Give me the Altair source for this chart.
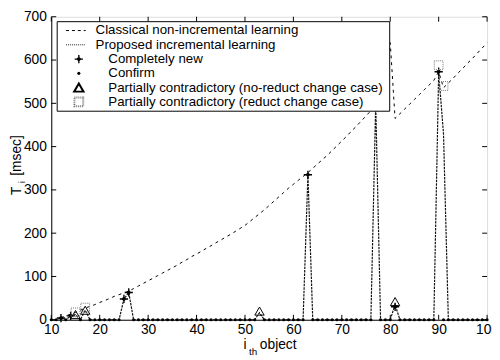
import altair as alt
import pandas as pd

# ---------------- data ----------------
obj_x = list(range(10, 101))
incremental_t = [
    0, 0, 4, 0, 9, 12, 0, 22, 0, 0,          # 10-19
    0, 0, 0, 0, 0, 48, 63, 0, 0, 0,          # 20-29
    0, 0, 0, 0, 0, 0, 0, 0, 0, 0,            # 30-39
    0, 0, 0, 0, 0, 0, 0, 0, 0, 0,            # 40-49
    0, 0, 0, 16, 0, 0, 0, 0, 0, 0,           # 50-59
    0, 0, 0, 335, 0, 0, 0, 0, 0, 0,          # 60-69
    0, 0, 0, 0, 0, 0, 0, 500, 0, 0,          # 70-79
    0, 35, 0, 0, 0, 0, 0, 0, 0, 0,           # 80-89
    570, 430, 0, 0, 0, 0, 0, 0, 0, 0,        # 90-99
    0,                                       # 100
]

classical_x = list(range(12, 101))
classical_t = [
    5, 9, 13, 17, 22, 27, 31, 35,                       # 12-19
    40, 44, 49, 54, 58, 62, 66, 72, 78, 84,             # 20-29
    90, 96, 102, 108, 114, 120, 126, 133, 139, 146,     # 30-39
    152, 158, 165, 171, 178, 184, 191, 197, 204, 211,   # 40-49
    218, 227, 236, 245, 254, 264, 274, 284, 294, 304,   # 50-59
    313, 322, 331, 340, 350, 360, 370, 380, 391, 402,   # 60-69
    413, 424, 436, 447, 459, 471, 483, 496, 520, 570,   # 70-79
    640, 465, 476, 487, 498, 509, 520, 531, 542, 553,   # 80-89
    573, 536, 547, 558, 570, 581, 593, 604, 616, 628,   # 90-99
    640,                                                # 100
]

new_x = [12, 14, 25, 26, 63, 77, 81, 90]
new_t = [4, 9, 48, 63, 335, 500, 30, 573]

tri_x = [15, 17, 53, 81]
tri_t = [12, 22, 20, 42]

sq_x = [15, 17, 90, 91]
sq_t = [17, 28, 588, 540]

special = set(new_x) | set(tri_x)
confirm_x = [x for x in obj_x if x not in special]
confirm_t = [0 for _ in confirm_x]

y_ticks = [0, 100, 200, 300, 400, 500, 600, 700]
x_ticks = [10, 20, 30, 40, 50, 60, 70, 80, 90, 100]

legend_labels = [
    "Classical non-incremental learning",
    "Proposed incremental learning",
    "Completely new",
    "Confirm",
    "Partially contradictory (no-reduct change case)",
    "Partially contradictory (reduct change case)",
]

# ---------------- styling / layout ----------------
FONT = "Liberation Sans"
W, H = 443, 308

xscale = alt.Scale(domain=[10, 100], nice=False, zero=False)
yscale = alt.Scale(domain=[0, 700], nice=False, zero=True)
xaxis = alt.Axis(values=x_ticks, title=None, ticks=False, labelPadding=3,
                 grid=False, labelFontSize=14, labelFont=FONT, labelColor="black",
                 domainColor="black", labelFlush=False, labelOverlap=False)
yaxis = alt.Axis(values=y_ticks, title=None, ticks=False, labelPadding=5,
                 grid=False, labelFontSize=14, labelFont=FONT, labelColor="black",
                 domainColor="black")


def X(field):
    return alt.X(f"{field}:Q", scale=xscale, axis=xaxis)


def Y(field):
    return alt.Y(f"{field}:Q", scale=yscale, axis=yaxis)


df_incr = pd.DataFrame({"x": obj_x, "t": incremental_t})
df_class = pd.DataFrame({"x": classical_x, "t": classical_t})
df_new = pd.DataFrame({"x": new_x, "t": new_t})
df_tri = pd.DataFrame({"x": tri_x, "t": tri_t})
df_sq = pd.DataFrame({"x": sq_x, "t": sq_t})
df_conf = pd.DataFrame({"x": confirm_x, "t": confirm_t})
df_yt = pd.DataFrame({"v": y_ticks})
df_xt = pd.DataFrame({"v": x_ticks})
one = pd.DataFrame({"a": [0]})

STAR = "M-1,0L1,0M0,-1L0,1M-0.4,0L0,-0.4L0.4,0L0,0.4Z"

classical = alt.Chart(df_class).mark_line(
    color="black", strokeDash=[3, 4], strokeWidth=1).encode(x=X("x"), y=Y("t"))
incremental = alt.Chart(df_incr).mark_line(
    color="#111111", strokeDash=[2.5, 1], strokeWidth=1.2).encode(x=X("x"), y=Y("t"))
confirm = alt.Chart(df_conf).mark_point(
    shape="circle", filled=True, size=10, color="black", opacity=1).encode(x=X("x"), y=Y("t"))
newp = alt.Chart(df_new).mark_point(
    shape=STAR, filled=True, size=70, color="black", stroke="black",
    strokeWidth=1.4, opacity=1).encode(x=X("x"), y=Y("t"))
tri = alt.Chart(df_tri).mark_point(
    shape="triangle-up", filled=False, size=90, color="black", strokeWidth=1,
    opacity=1).encode(x=X("x"), y=Y("t"))
sq = alt.Chart(df_sq).mark_point(
    shape="square", filled=False, size=80, color="#777777", strokeWidth=1,
    strokeDash=[1, 1], opacity=1).encode(x=X("x"), y=Y("t"))

# inward ticks on all four sides (MATLAB style)
tick_l = alt.Chart(df_yt).mark_rule(color="black").encode(
    y=Y("v"), x=alt.value(0), x2=alt.value(5))
tick_r = alt.Chart(df_yt).mark_rule(color="black").encode(
    y=Y("v"), x=alt.value(W - 5), x2=alt.value(W))
tick_b = alt.Chart(df_xt).mark_rule(color="black").encode(
    x=X("v"), y=alt.value(H - 5), y2=alt.value(H))
tick_t = alt.Chart(df_xt).mark_rule(color="black").encode(
    x=X("v"), y=alt.value(0), y2=alt.value(5))

# legend (box, samples and labels)
rows = [14, 28.5, 43, 57.5, 72, 86.5]
leg_box = alt.Chart(one).mark_rect(fill="white", stroke="black", strokeWidth=1).encode(
    x=alt.value(6), x2=alt.value(344), y=alt.value(5), y2=alt.value(96))
leg_l1 = alt.Chart(one).mark_rule(color="black", strokeDash=[3, 3], strokeWidth=1).encode(
    x=alt.value(15), x2=alt.value(35), y=alt.value(rows[0]))
leg_l2 = alt.Chart(one).mark_rule(color="#222222", strokeDash=[1, 1], strokeWidth=1).encode(
    x=alt.value(15), x2=alt.value(35), y=alt.value(rows[1]))
leg_m1 = alt.Chart(one).mark_point(shape=STAR, filled=True, size=70, color="black",
                                   stroke="black", strokeWidth=1.4, opacity=1).encode(
    x=alt.value(28), y=alt.value(rows[2]))
leg_m2 = alt.Chart(one).mark_point(shape="circle", filled=True, size=10, color="black",
                                   opacity=1).encode(x=alt.value(28), y=alt.value(rows[3]))
leg_m3 = alt.Chart(one).mark_point(shape="triangle-up", filled=False, size=90, color="black",
                                   opacity=1).encode(x=alt.value(28), y=alt.value(rows[4]))
leg_m4 = alt.Chart(one).mark_point(shape="square", filled=False, size=80, color="#777777",
                                   strokeDash=[1, 1], opacity=1).encode(
    x=alt.value(28), y=alt.value(rows[5]))

leg_texts = []
for i, lab in enumerate(legend_labels):
    xpos = 45 if i < 2 else 58
    leg_texts.append(
        alt.Chart(one).mark_text(align="left", baseline="middle", font=FONT,
                                 fontSize=13.5, color="black").encode(
            x=alt.value(xpos), y=alt.value(rows[i]), text=alt.value(lab)))


# axis titles with subscripts
def txt(s, x, y, size=14, angle=0, align="center"):
    return alt.Chart(one).mark_text(align=align, baseline="middle", font=FONT,
                                    fontSize=size, color="black", angle=angle).encode(
        x=alt.value(x), y=alt.value(y), text=alt.value(s))


titles = [
    txt("i", 197, 334),
    txt("th", 201, 341, size=10, align="left"),
    txt("object", 212, 334, align="left"),
    txt("T", -35, 177, angle=270),
    txt("i", -30, 168, size=10, angle=270),
    txt("[msec]", -35, 141, angle=270),
]

chart = alt.layer(
    classical, incremental, confirm, newp, tri, sq,
    tick_l, tick_r, tick_b, tick_t,
    leg_box, leg_l1, leg_l2, leg_m1, leg_m2, leg_m3, leg_m4,
    *leg_texts, *titles,
).properties(
    width=W, height=H,
    autosize=alt.AutoSizeParams(type="none"),
    padding={"left": 44, "top": 6, "right": 5, "bottom": 38},
).configure_view(
    stroke="black", strokeWidth=1
).configure(background="white")

chart.save("out.html", embed_options={"renderer": "svg", "actions": False})
